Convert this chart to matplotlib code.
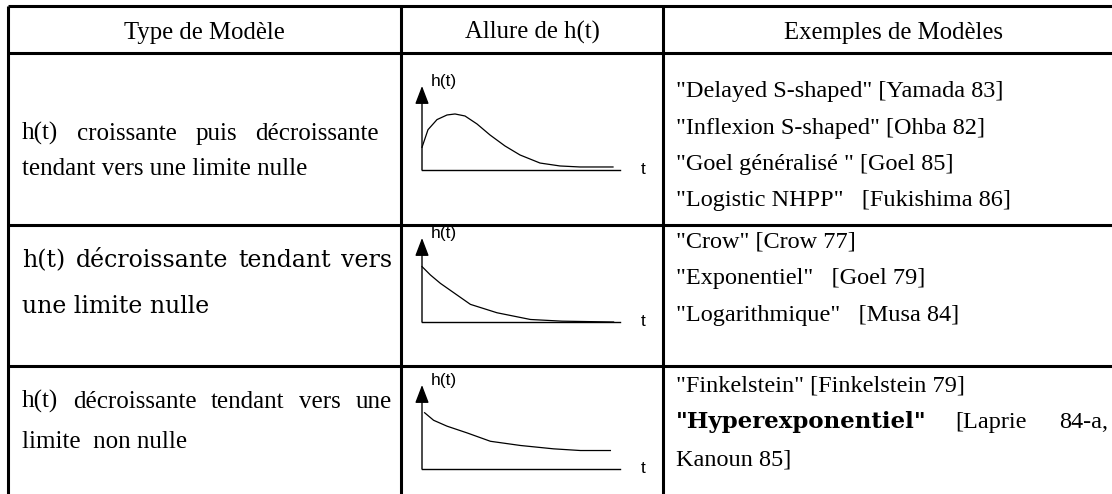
import numpy as np
import matplotlib.pyplot as plt

W, H = 1112, 494

headers = ["Type de Modèle", "Allure de h(t)", "Exemples de Modèles"]

type_lines = [
    ["h(t) croissante puis décroissante", "tendant vers une limite nulle"],
    ["h(t) décroissante tendant vers", "une limite nulle"],
    ["h(t) décroissante tendant vers une", "limite  non nulle"],
]

examples = [
    ['"Delayed S-shaped" [Yamada 83]', '"Inflexion S-shaped" [Ohba 82]',
     '"Goel généralisé " [Goel 85]', '"Logistic NHPP"   [Fukishima 86]'],
    ['"Crow" [Crow 77]', '"Exponentiel"   [Goel 79]', '"Logarithmique"   [Musa 84]'],
    ['"Finkelstein" [Finkelstein 79]', None, 'Kanoun 85]'],
]
bold_name = '"Hyperexponentiel"'
bold_ref = ["[Laprie", "84-a,"]

# shapes of h(t) (t: 0..10, h: 0..1)
t1 = [0, 0.3, 0.75, 1.25, 1.65, 2.15, 2.75, 3.4, 4.15, 4.9, 5.9, 6.9, 7.9, 9.55]
h1 = [0.27, 0.48, 0.6, 0.655, 0.667, 0.643, 0.548, 0.417, 0.286, 0.179, 0.083, 0.048, 0.036, 0.036]
t2 = [0, 0.42, 0.92, 1.58, 2.42, 3.75, 5.42, 7.0, 9.58]
h2 = [0.66, 0.56, 0.46, 0.35, 0.21, 0.11, 0.03, 0.01, 0.0]
t3 = [0.13, 0.58, 1.25, 2.25, 3.42, 4.92, 6.58, 7.92, 9.42]
h3 = [0.67, 0.58, 0.51, 0.43, 0.33, 0.28, 0.24, 0.22, 0.22]
curves = [(t1, h1), (t2, h2), (t3, h3)]

# layout (pixels)
col_x = [8, 401, 663]
row_y = [6, 53, 225, 366]
head_base = 39
type_base = [[140, 175], [267, 313], [408, 448]]
type_right = [379, 392, 392]
ex_base = [[97, 134, 170, 206], [247, 284, 321], [391, 428, 465]]
axis_y = [170, 322, 469]
axis_x0 = 422

serif = "Liberation Serif"
lw_tab = 2.2

fig = plt.figure(figsize=(W / 100, H / 100), dpi=100)
ax = fig.add_axes([0, 0, 1, 1])
ax.set_xlim(0, W)
ax.set_ylim(H, 0)
ax.axis("off")

# table rules
for x in col_x:
    ax.plot([x, x], [row_y[0], H], color="black", lw=lw_tab, solid_capstyle="butt")
for y in row_y:
    ax.plot([col_x[0], W], [y, y], color="black", lw=lw_tab, solid_capstyle="butt")

# headers
centers = [(col_x[0] + col_x[1]) / 2, (col_x[1] + col_x[2]) / 2, 894]
for c, s in zip(centers, headers):
    ax.text(c, head_base, s, ha="center", va="baseline", family=serif, size=17.8)

r = fig.canvas.get_renderer()


def put_justified(line, x0, x1, y, **kw):
    words = line.split()
    arts = [ax.text(0, y, w, ha="left", va="baseline", **kw) for w in words]
    widths = [a.get_window_extent(r).width for a in arts]
    gap = (x1 - x0 - sum(widths)) / (len(words) - 1)
    x = x0
    for a, w in zip(arts, widths):
        a.set_x(x)
        x += w + gap


# first column
for i, lines in enumerate(type_lines):
    if i == 1:
        kw = dict(family="DejaVu Serif", size=17)
    else:
        kw = dict(family=serif, size=18)
    put_justified(lines[0], 22, type_right[i], type_base[i][0], **kw)
    ax.text(22, type_base[i][1], lines[1], ha="left", va="baseline", **kw)

# third column
for i, lines in enumerate(examples):
    for j, s in enumerate(lines):
        if s is None:
            continue
        ax.text(676, ex_base[i][j], s, ha="left", va="baseline", family=serif, size=17.5)
y = ex_base[2][1]
ax.text(676, y, bold_name, ha="left", va="baseline", family="DejaVu Serif",
        weight="bold", size=16.5)
ax.text(955, y, bold_ref[0], ha="left", va="baseline", family=serif, size=17.5)
ax.text(1108, y, bold_ref[1], ha="right", va="baseline", family=serif, size=17.5)

# small sketches of h(t)
for (t, h), y0 in zip(curves, axis_y):
    sub = fig.add_axes([axis_x0 / W, (H - y0) / H, 200 / W, 84 / H])
    sub.set_xlim(0, 10)
    sub.set_ylim(0, 1)
    sub.axis("off")
    sub.plot(t, h, color="black", lw=0.9, clip_on=False)
    sub.plot([0, 9.9], [0, 0], color="black", lw=1.0, clip_on=False)
    sub.annotate("", xy=(0, 1), xytext=(0, 0),
                 arrowprops=dict(arrowstyle="-|>,head_length=1.1,head_width=0.42",
                                 color="black", lw=1.0, shrinkA=0, shrinkB=0,
                                 mutation_scale=10))
    sub.text(0.42, 1.0, "h(t)", ha="left", va="baseline",
             family="Liberation Sans", size=12.5)
    sub.text(11.07, -0.05, "t", ha="center", va="baseline",
             family="Liberation Sans", size=12.5)

fig.savefig("out.png", dpi=100)
